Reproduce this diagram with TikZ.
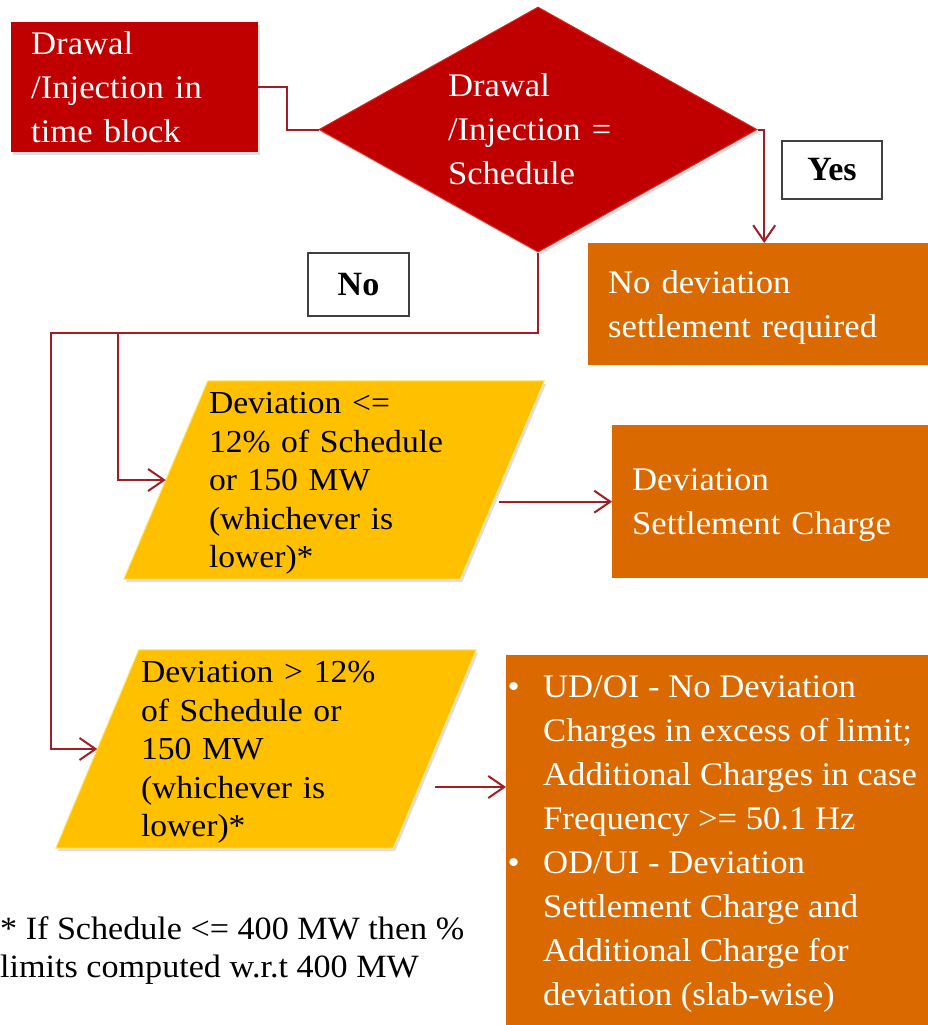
\documentclass[tikz,border=0pt]{standalone}
\usepackage{fontspec}
\setmainfont{Liberation Serif}[FakeStretch=1.05]
\newfontfamily\tagfont{Liberation Serif}
\usepackage{tikz}
\usetikzlibrary{arrows.meta, calc, shapes.geometric, shadows, backgrounds}

\definecolor{blockred}{HTML}{C00000}
\definecolor{edgered}{HTML}{D8261C}
\definecolor{burnt}{HTML}{DA6A00}
\definecolor{amber}{HTML}{FFC000}
\definecolor{wire}{HTML}{A01E24}

% last line of a block: no descender in the centring
\newcommand{\flatline}[1]{\smash{#1}}
% bullet lines of the last box
\newcommand{\bulletline}[1]{\makebox[35.5pt][l]{\textbullet}#1}
\newcommand{\hangline}[1]{\hspace*{35.5pt}#1}

\begin{document}
\begin{tikzpicture}[x=1pt, y=-1pt,
    boxtext/.style={font=\fontsize{33}{44}\selectfont, align=left, inner xsep=20pt, inner ysep=0pt},
    redbox/.style={boxtext, fill=blockred, text=white, drop shadow={shadow xshift=2pt, shadow yshift=-3pt, opacity=0.25}},
    orangebox/.style={boxtext, fill=burnt, text=white},
    paratext/.style={font=\fontsize{32}{38.5}\selectfont, align=left, inner sep=0pt, text width=250pt, minimum height=198pt},
    parafill/.style={fill=amber, draw=amber!75!yellow!60!white, line width=1pt, drop shadow={shadow xshift=2pt, shadow yshift=-3pt, opacity=0.25}},
    tagbox/.style={draw=black!75, line width=1.2pt, fill=white, font=\tagfont\bfseries\fontsize{34}{40}\selectfont, inner sep=0pt},
    flow/.style={draw=wire, line width=2pt, -{Straight Barb[length=16pt, width=22pt]}},
    wireline/.style={draw=wire, line width=2pt}]

  \useasboundingbox (0,0) rectangle (928,1025);

  % Start block
  \node[redbox, anchor=north west, minimum width=247pt, minimum height=130pt, text width=207pt] (drawal) at (11,22) {Drawal\\/Injection in\\time block};

  % Decision diamond
  \node[diamond, fill=blockred, draw=edgered, line width=1pt, inner sep=0pt, minimum width=438pt, minimum height=245pt,
        drop shadow={shadow xshift=2pt, shadow yshift=-3pt, opacity=0.25}] (check) at (538,129.5) {};
  \node[boxtext, text=white, text width=180pt, inner xsep=0pt] (checktext) at (check) {Drawal\\/Injection =\\Schedule};

  % Outcome boxes
  \node[orangebox, anchor=north west, minimum width=340pt, minimum height=122pt, text width=300pt] (nods) at (588,243) {No deviation\\\flatline{settlement required}};
  \node[orangebox, anchor=north west, minimum width=316pt, minimum height=153pt, text width=276pt, yshift=-2pt] (dsc) at (612,423) {Deviation\\\flatline{Settlement Charge}};
  \node[orangebox, anchor=north west, minimum width=422pt, minimum height=370pt, inner xsep=1.5pt] (excess) at (506,655) {%
    \makebox[419pt][l]{\bulletline{UD/OI - No Deviation}}\\
    \hangline{Charges in excess of limit;}\\
    \hangline{Additional Charges in case}\\
    \hangline{Frequency >= 50.1 Hz}\\
    \bulletline{OD/UI - Deviation}\\
    \hangline{Settlement Charge and}\\
    \hangline{Additional Charge for}\\
    \hangline{\flatline{deviation (slab-wise)}}};

  % Deviation checks (parallelograms)
  \node[paratext, minimum width=336pt] (lower) at (334,480) {Deviation <=\\12\% of Schedule\\or 150 MW\\(whichever is\\\flatline{lower)*}};
  \node[paratext, minimum width=337pt] (higher) at (266,749) {Deviation > 12\%\\of Schedule or\\150 MW\\(whichever is\\\flatline{lower)*}};
  \begin{pgfonlayer}{background}
    \path[parafill] ([xshift=42pt]lower.north west) -- ([xshift=42pt]lower.north east)
      -- ([xshift=-42pt]lower.south east) -- ([xshift=-42pt]lower.south west) -- cycle;
    \path[parafill] ([xshift=41.5pt]higher.north west) -- ([xshift=41.5pt]higher.north east)
      -- ([xshift=-41.5pt]higher.south east) -- ([xshift=-41.5pt]higher.south west) -- cycle;
  \end{pgfonlayer}

  % Connectors
  \draw[wireline] (drawal.east) -- ++(29,0) |- (check.west);
  \draw[flow] (check.east) -| ([xshift=6pt]nods.north);
  \coordinate (rail) at (51,333);
  \coordinate (tap) at (118,333);
  \draw[flow] (check.south) |- (rail) |- (higher.west);
  \draw[flow] (tap) |- (lower.west);
  \draw[flow] ([xshift=-3pt]lower.east |- dsc.west) -- (dsc.west);
  \draw[flow] ([yshift=-38pt]higher.east) coordinate (highout) -- (highout -| excess.west);

  % Yes / No tags
  \node[tagbox, minimum width=100pt, minimum height=58pt] (yes) at (832,170) {Yes};
  \node[tagbox, minimum width=101pt, minimum height=63pt] (no) at (358.5,284.5) {No};

  % Footnote
  \node[anchor=west, align=left, inner sep=0pt, font=\fontsize{32.5}{38}\selectfont] (note) at (0,951) {* If Schedule <= 400 MW then \%\\limits computed w.r.t 400 MW};

\end{tikzpicture}
\end{document}
